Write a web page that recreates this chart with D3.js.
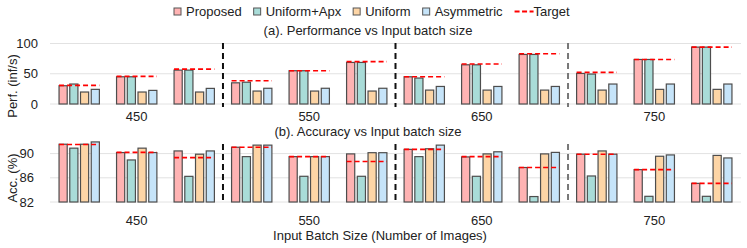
<!DOCTYPE html>
<html>
<head>
<meta charset="utf-8">
<script src="https://cdn.jsdelivr.net/npm/d3@7"></script>
<style>
  html, body { margin: 0; padding: 0; background: #fff; }
  svg { display: block; font-family: "Liberation Sans", Arial, Helvetica, sans-serif; }
</style>
</head>
<body>
<svg id="chart" width="747" height="248"></svg>
<script>
// ---------------- data ----------------
const batchSizes = ["450", "550", "650", "750"];
const groupIds = ["450-1","450-2","450-3","550-1","550-2","550-3","650-1","650-2","650-3","750-1","750-2","750-3"];
const seriesNames = ["Proposed", "Uniform+Apx", "Uniform", "Asymmetric"];

const perfProposed   = [30.2, 45.0, 56.0, 35.0, 55.0, 68.7, 45.0, 64.8, 81.9, 50.5, 73.6, 94.0];
const perfUniformApx = [33.0, 45.0, 56.0, 36.0, 55.0, 68.7, 42.9, 64.8, 81.9, 49.5, 73.6, 94.0];
const perfUniform    = [19.8, 19.8, 19.8, 21.4, 21.4, 21.4, 23.0, 23.0, 23.0, 23.0, 24.2, 24.2];
const perfAsym       = [24.2, 22.5, 25.8, 26.0, 26.0, 26.0, 29.0, 29.0, 29.0, 33.0, 33.0, 33.0];
const perfTarget     = [30.8, 45.6, 57.7, 38.5, 55.0, 70.0, 45.0, 66.0, 83.0, 52.2, 73.6, 94.0];

const accProposed    = [91.55, 90.17, 90.44, 91.05, 89.5, 89.95, 90.7, 89.45, 87.7, 89.9, 87.35, 85.08];
const accUniformApx  = [90.9, 88.95, 86.24, 89.5, 86.25, 86.25, 89.5, 86.25, 82.9, 86.3, 82.94, 82.94];
const accUniform     = [91.55, 90.9, 89.9, 91.4, 89.5, 90.15, 90.8, 89.95, 89.95, 90.44, 89.56, 89.7];
const accAsym        = [91.93, 90.17, 90.44, 91.4, 89.5, 90.15, 91.4, 90.3, 90.2, 89.9, 89.78, 89.28];
const accTarget      = [91.5, 90.2, 89.34, 91.05, 89.5, 88.7, 90.7, 89.5, 87.7, 89.9, 87.35, 85.08];

const perfTicks = [0, 50, 100];
const accTicks = [82, 86, 90];

// ---------------- styles ----------------
const colors = ["#ffb3b3", "#a9dcd8", "#fdd5a6", "#c6e4f9"];
const targetColor = "#ff0000";
const svg = d3.select("#chart");

const x0 = d3.scaleBand().domain(groupIds).range([50, 741]).paddingInner(0.28).paddingOuter(0.148);
const x1 = d3.scaleBand().domain(seriesNames).range([0, x0.bandwidth()]).paddingInner(0.24).paddingOuter(0.05);

function panel(opts) {
  const { y, ticks, series, target, tickEnd, sepTop, sepBottom } = opts;
  const g = svg.append("g");
  // gridlines
  g.selectAll("line.grid").data(ticks).join("line")
    .attr("x1", 50).attr("x2", 741)
    .attr("y1", d => y(d)).attr("y2", d => y(d))
    .attr("stroke", "#e2e2e2").attr("stroke-width", 1);
  // tick labels
  g.selectAll("text.tick").data(ticks).join("text")
    .attr("x", tickEnd).attr("y", d => y(d)).attr("dy", "0.35em")
    .attr("text-anchor", "end").attr("font-size", 13).attr("fill", "#222")
    .text(d => d);
  // bars
  const base = y.domain()[0];
  groupIds.forEach((gid, i) => {
    const gg = g.append("g").attr("transform", `translate(${x0(gid)},0)`);
    gg.selectAll("rect").data(series.map((s, k) => ({ name: seriesNames[k], v: s[i], c: colors[k] })))
      .join("rect")
      .attr("x", d => x1(d.name))
      .attr("width", x1.bandwidth())
      .attr("y", d => y(d.v))
      .attr("height", d => y(base) - y(d.v))
      .attr("fill", d => d.c)
      .attr("stroke", "#4d4d4d").attr("stroke-width", 1.2);
    // target dashed line
    gg.append("line")
      .attr("x1", x1(seriesNames[0])).attr("x2", x1(seriesNames[3]) + x1.bandwidth())
      .attr("y1", y(target[i])).attr("y2", y(target[i]))
      .attr("stroke", targetColor).attr("stroke-width", 1.6).attr("stroke-dasharray", "5,3");
  });
  // separators
  [3, 6, 9].forEach((idx, j) => {
    const xs = (x0(groupIds[idx - 1]) + x0.bandwidth() + x0(groupIds[idx])) / 2;
    g.append("line")
      .attr("x1", xs).attr("x2", xs).attr("y1", sepTop).attr("y2", sepBottom)
      .attr("stroke", j === 2 ? "#777" : "#111").attr("stroke-width", 2)
      .attr("stroke-dasharray", "6,4");
  });
}

const yPerf = d3.scaleLinear().domain([0, 100]).range([104, 43.5]);
const yAcc = d3.scaleLinear().domain([82, 92]).range([202, 141.5]);

panel({ y: yPerf, ticks: perfTicks, series: [perfProposed, perfUniformApx, perfUniform, perfAsym], target: perfTarget, tickEnd: 38, sepTop: 43, sepBottom: 107 });
panel({ y: yAcc, ticks: accTicks, series: [accProposed, accUniformApx, accUniform, accAsym], target: accTarget, tickEnd: 34, sepTop: 144, sepBottom: 204 });

// batch size labels (centre of middle group in each triple)
[[121, "top"], [225, "bot"]].forEach(([yy]) => {
  svg.selectAll(null).data(batchSizes).join("text")
    .attr("x", (d, i) => x0(groupIds[i * 3 + 1]) + x0.bandwidth() / 2)
    .attr("y", yy).attr("text-anchor", "middle").attr("font-size", 13).attr("fill", "#222")
    .text(d => d);
});

// titles
svg.append("text").attr("x", 368).attr("y", 35).attr("text-anchor", "middle")
  .attr("font-size", 13).attr("fill", "#222").text("(a). Performance vs Input batch size");
svg.append("text").attr("x", 368).attr("y", 136).attr("text-anchor", "middle")
  .attr("font-size", 13).attr("fill", "#222").text("(b). Accuracy vs Input batch size");
svg.append("text").attr("x", 380).attr("y", 240).attr("text-anchor", "middle")
  .attr("font-size", 13).attr("fill", "#222").text("Input Batch Size (Number of Images)");

// y titles
svg.append("text").attr("transform", "translate(17,86) rotate(-90)").attr("text-anchor", "middle")
  .attr("font-size", 13).attr("fill", "#222").text("Perf. (inf/s)");
svg.append("text").attr("transform", "translate(17,178) rotate(-90)").attr("text-anchor", "middle")
  .attr("font-size", 13).attr("fill", "#222").text("Acc. (%)");

// legend
const legend = svg.append("g");
let lx = 174;
seriesNames.forEach((name, k) => {
  legend.append("rect").attr("x", lx).attr("y", 8).attr("width", 7).attr("height", 7)
    .attr("fill", colors[k]).attr("stroke", "#555").attr("stroke-width", 1);
  const t = legend.append("text").attr("x", lx + 12).attr("y", 16).attr("font-size", 13)
    .attr("fill", "#222").text(name);
  lx += 12 + t.node().getComputedTextLength() + 12;
});
legend.append("line").attr("x1", lx).attr("x2", lx + 19).attr("y1", 11.5).attr("y2", 11.5)
  .attr("stroke", targetColor).attr("stroke-width", 2).attr("stroke-dasharray", "5,2.5");
legend.append("text").attr("x", lx + 19).attr("y", 16).attr("font-size", 13).attr("fill", "#222").text("Target");
</script>
</body>
</html>
